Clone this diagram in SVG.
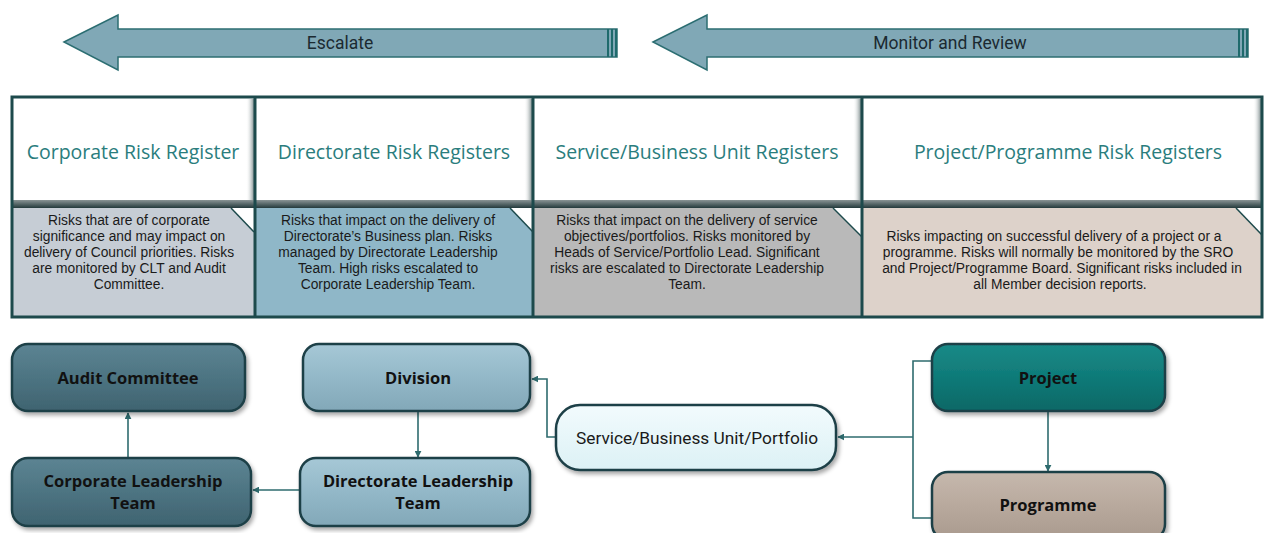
<svg xmlns="http://www.w3.org/2000/svg" width="1265" height="533" viewBox="0 0 1265 533">
  <defs>
    <style>
      .band { fill: #80a8b6; stroke: #2c6e72; stroke-width: 1.5; }
      .band-end { stroke: #1f6a6c; stroke-width: 2; }
      .band-label { font-family: Roboto, "Liberation Sans", sans-serif; font-size: 17.5px; fill: #1b2a31; text-anchor: middle; }
      .head { fill: #ffffff; }
      .head-label { font-family: "Open Sans", "Noto Sans", sans-serif; font-size: 19.5px; fill: #2a7d7d; text-anchor: middle; }
      .desc-label { font-family: "Liberation Sans", Arial, sans-serif; font-size: 13.8px; fill: #1a1a1a; text-anchor: middle; }
      .fold { fill: none; stroke: #1d4a4c; stroke-width: 1.5; }
      .grid { fill: none; stroke: #1d4a4c; stroke-width: 3; }
      .node { stroke: #1e3f47; stroke-width: 2.5; filter: url(#shadow); }
      .node-label { font-family: "Open Sans", "Noto Sans", sans-serif; font-size: 16.5px; font-weight: bold; fill: #111111; text-anchor: middle; }
      .node-label-plain { font-family: Roboto, "Liberation Sans", sans-serif; font-size: 17.3px; fill: #1a1a1a; text-anchor: middle; }
      .link { fill: none; stroke: #2e6b6e; stroke-width: 1.6; }
    </style>
    <marker id="tip" viewBox="0 0 10 10" refX="9" refY="5" markerWidth="7" markerHeight="7" orient="auto" markerUnits="userSpaceOnUse">
      <path d="M0,0 L10,5 L0,10 z" fill="#2e6b6e"/>
    </marker>
    <filter id="shadow" x="-10%" y="-10%" width="125%" height="130%">
      <feDropShadow dx="2" dy="3" stdDeviation="2" flood-color="#000000" flood-opacity="0.35"/>
    </filter>
    <linearGradient id="headShade" x1="0" y1="0" x2="1" y2="0">
      <stop offset="0" stop-color="#ffffff" stop-opacity="0"/>
      <stop offset="1" stop-color="#6f7f80" stop-opacity="0.9"/>
    </linearGradient>
    <linearGradient id="headFoot" x1="0" y1="0" x2="0" y2="1">
      <stop offset="0" stop-color="#8a9495"/>
      <stop offset="1" stop-color="#243a3c"/>
    </linearGradient>
    <linearGradient id="gDark" x1="0" y1="0" x2="0" y2="1">
      <stop offset="0" stop-color="#5c8493"/>
      <stop offset="0.5" stop-color="#4d7482"/>
      <stop offset="1" stop-color="#3f6370"/>
    </linearGradient>
    <linearGradient id="gLight" x1="0" y1="0" x2="0" y2="1">
      <stop offset="0" stop-color="#a6c8d6"/>
      <stop offset="0.5" stop-color="#93b8c8"/>
      <stop offset="1" stop-color="#82a8b8"/>
    </linearGradient>
    <linearGradient id="gPale" x1="0" y1="0" x2="0" y2="1">
      <stop offset="0" stop-color="#f2fbfd"/>
      <stop offset="1" stop-color="#dcf1f5"/>
    </linearGradient>
    <linearGradient id="gTeal" x1="0" y1="0" x2="0" y2="1">
      <stop offset="0" stop-color="#1a8a87"/>
      <stop offset="0.5" stop-color="#0f7a78"/>
      <stop offset="1" stop-color="#0b6866"/>
    </linearGradient>
    <linearGradient id="gTaupe" x1="0" y1="0" x2="0" y2="1">
      <stop offset="0" stop-color="#c6b8ad"/>
      <stop offset="0.5" stop-color="#b8a99d"/>
      <stop offset="1" stop-color="#a99a8e"/>
    </linearGradient>
  </defs>

  <rect width="1265" height="533" fill="#ffffff"/>

  <!-- direction bands -->
  <g id="band-escalate">
    <path class="band" d="M64,42 L118,15 L118,29 L617,29 L617,57 L118,57 L118,70 Z"/>
    <line class="band-end" x1="608" y1="29" x2="608" y2="57"/>
    <line class="band-end" x1="612" y1="29" x2="612" y2="57"/>
    <line class="band-end" x1="616" y1="29" x2="616" y2="57"/>
    <text class="band-label" x="340" y="49">Escalate</text>
  </g>
  <g id="band-monitor">
    <path class="band" d="M653,42 L707,15 L707,29 L1248,29 L1248,57 L707,57 L707,70 Z"/>
    <line class="band-end" x1="1239" y1="29" x2="1239" y2="57"/>
    <line class="band-end" x1="1243" y1="29" x2="1243" y2="57"/>
    <line class="band-end" x1="1247" y1="29" x2="1247" y2="57"/>
    <text class="band-label" x="950" y="49">Monitor and Review</text>
  </g>

  <!-- register table -->
  <g id="register-corporate">
    <rect class="head" x="12" y="97" width="243" height="108"/>
    <rect x="246" y="99" width="8" height="104" fill="url(#headShade)"/>
    <rect x="12" y="200" width="243" height="8" fill="url(#headFoot)"/>
    <text class="head-label" x="133" y="159">Corporate Risk Register</text>
    <path d="M12,208 L231,208 L254,232 L254,317 L12,317 Z" fill="#c6cdd5"/>
    <path class="fold" d="M231,208 L254,232"/>
    <text class="desc-label" x="129" y="225">Risks that are of corporate</text>
    <text class="desc-label" x="129" y="241">significance and may impact on</text>
    <text class="desc-label" x="129" y="257">delivery of Council priorities. Risks</text>
    <text class="desc-label" x="129" y="273">are monitored by CLT and Audit</text>
    <text class="desc-label" x="129" y="289">Committee.</text>
  </g>

  <g id="register-directorate">
    <rect class="head" x="255" y="97" width="278" height="108"/>
    <rect x="524" y="99" width="8" height="104" fill="url(#headShade)"/>
    <rect x="255" y="200" width="278" height="8" fill="url(#headFoot)"/>
    <text class="head-label" x="394" y="159">Directorate Risk Registers</text>
    <path d="M255,208 L510,208 L533,232 L533,317 L255,317 Z" fill="#8fb7c8"/>
    <path class="fold" d="M510,208 L533,232"/>
    <text class="desc-label" x="388" y="225">Risks that impact on the delivery of</text>
    <text class="desc-label" x="388" y="241">Directorate’s Business plan. Risks</text>
    <text class="desc-label" x="388" y="257">managed by Directorate Leadership</text>
    <text class="desc-label" x="388" y="273">Team. High risks escalated to</text>
    <text class="desc-label" x="388" y="289">Corporate Leadership Team.</text>
  </g>

  <g id="register-service">
    <rect class="head" x="533" y="97" width="329" height="108"/>
    <rect x="853" y="99" width="8" height="104" fill="url(#headShade)"/>
    <rect x="533" y="200" width="329" height="8" fill="url(#headFoot)"/>
    <text class="head-label" x="697" y="159">Service/Business Unit Registers</text>
    <path d="M533,208 L833,208 L862,237 L862,317 L533,317 Z" fill="#b9b9b9"/>
    <path class="fold" d="M833,208 L862,237"/>
    <text class="desc-label" x="687" y="225">Risks that impact on the delivery of service</text>
    <text class="desc-label" x="687" y="241">objectives/portfolios. Risks monitored by</text>
    <text class="desc-label" x="687" y="257">Heads of Service/Portfolio Lead. Significant</text>
    <text class="desc-label" x="687" y="273">risks are escalated to Directorate Leadership</text>
    <text class="desc-label" x="687" y="289">Team.</text>
  </g>

  <g id="register-project">
    <rect class="head" x="862" y="97" width="400" height="108"/>
    <rect x="1253" y="99" width="8" height="104" fill="url(#headShade)"/>
    <rect x="862" y="200" width="400" height="8" fill="url(#headFoot)"/>
    <text class="head-label" x="1068" y="159">Project/Programme Risk Registers</text>
    <path d="M862,208 L1236,208 L1262,235 L1262,317 L862,317 Z" fill="#ddd2ca"/>
    <path class="fold" d="M1236,208 L1262,235"/>
    <text class="desc-label" x="1054" y="241">Risks impacting on successful delivery of a project or a</text>
    <text class="desc-label" x="1058" y="257">programme. Risks will normally be monitored by the SRO</text>
    <text class="desc-label" x="1062" y="273">and Project/Programme Board. Significant risks included in</text>
    <text class="desc-label" x="1060" y="289">all Member decision reports.</text>
  </g>

  <g id="table-grid">
    <rect class="grid" x="12" y="97" width="1250" height="220"/>
    <line class="grid" x1="255" y1="97" x2="255" y2="317"/>
    <line class="grid" x1="533" y1="97" x2="533" y2="317"/>
    <line class="grid" x1="862" y1="97" x2="862" y2="317"/>
  </g>

  <!-- connectors -->
  <g id="connectors">
    <path class="link" d="M128,458 V413" marker-end="url(#tip)"/>
    <path class="link" d="M418,411 V457" marker-end="url(#tip)"/>
    <path class="link" d="M300,490 H253" marker-end="url(#tip)"/>
    <path class="link" d="M556,437 H547 V379 H532" marker-end="url(#tip)"/>
    <path class="link" d="M932,361 H913 V518 H932"/>
    <path class="link" d="M913,437 H838" marker-end="url(#tip)"/>
    <path class="link" d="M1048,411 V471" marker-end="url(#tip)"/>
  </g>

  <!-- organisation nodes -->
  <g id="node-audit">
    <rect class="node" x="12" y="344" width="233" height="67" rx="16" fill="url(#gDark)"/>
    <text class="node-label" x="128" y="384">Audit Committee</text>
  </g>
  <g id="node-clt">
    <rect class="node" x="12" y="458" width="239" height="68" rx="16" fill="url(#gDark)"/>
    <text class="node-label" x="133" y="487">Corporate Leadership</text>
    <text class="node-label" x="133" y="509">Team</text>
  </g>
  <g id="node-division">
    <rect class="node" x="303" y="344" width="227" height="67" rx="16" fill="url(#gLight)"/>
    <text class="node-label" x="418" y="384">Division</text>
  </g>
  <g id="node-dlt">
    <rect class="node" x="300" y="458" width="230" height="68" rx="16" fill="url(#gLight)"/>
    <text class="node-label" x="418" y="487">Directorate Leadership</text>
    <text class="node-label" x="418" y="509">Team</text>
  </g>
  <g id="node-service">
    <rect class="node" x="556" y="405" width="280" height="65" rx="24" fill="url(#gPale)"/>
    <text class="node-label-plain" x="697" y="444">Service/Business Unit/Portfolio</text>
  </g>
  <g id="node-project">
    <rect class="node" x="932" y="344" width="233" height="67" rx="16" fill="url(#gTeal)"/>
    <text class="node-label" x="1048" y="384">Project</text>
  </g>
  <g id="node-programme">
    <rect class="node" x="932" y="472" width="233" height="68" rx="16" fill="url(#gTaupe)"/>
    <text class="node-label" x="1048" y="511">Programme</text>
  </g>
</svg>
